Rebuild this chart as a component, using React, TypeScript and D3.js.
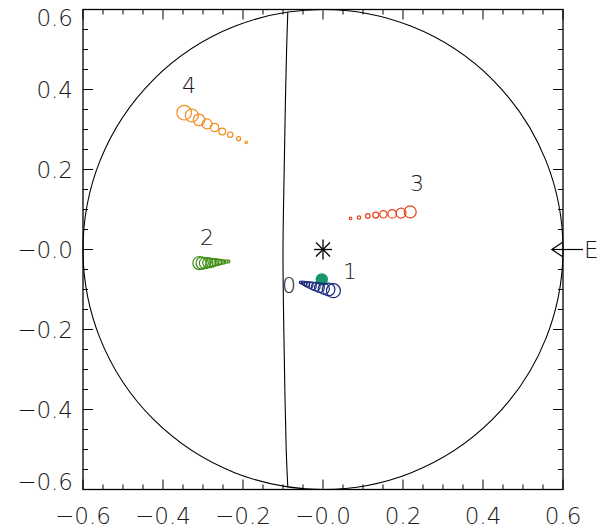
import React from "react";
import * as d3 from "d3";

const W = 613;
const H = 531;

const xTickLabels = ["−0.6", "−0.4", "−0.2", "−0.0", "0.2", "0.4", "0.6"];
const yTickLabels = ["−0.6", "−0.4", "−0.2", "−0.0", "0.2", "0.4", "0.6"];
const majorTicks = [-0.6, -0.4, -0.2, 0, 0.2, 0.4, 0.6];
const minorTicks = [
  -0.55, -0.5, -0.45, -0.35, -0.3, -0.25, -0.15, -0.1, -0.05, 0.05, 0.1, 0.15, 0.25, 0.3, 0.35, 0.45, 0.5, 0.55,
];

const diskRadius = 0.6;

// meridian line
const meridianX = [-0.088, -0.091, -0.094, -0.097, -0.1, -0.098, -0.095, -0.092, -0.088];
const meridianY = [0.594, 0.5, 0.37, 0.2, 0.0, -0.2, -0.37, -0.5, -0.594];

// group 0 (navy)
const g0X = [-0.056, -0.051, -0.046, -0.04, -0.033, -0.026, -0.018, -0.009, 0.002, 0.014, 0.026];
const g0Y = [-0.082, -0.083, -0.085, -0.087, -0.089, -0.091, -0.093, -0.095, -0.098, -0.1, -0.103];
const g0S = [1.3, 1.7, 2.2, 2.7, 3.2, 3.7, 4.3, 4.9, 5.6, 6.3, 7.0];

// group 1 (teal, single filled point)
const g1X = [-0.003];
const g1Y = [-0.075];
const g1S = [6.2];

// group 2 (green)
const g2X = [-0.309, -0.302, -0.295, -0.288, -0.281, -0.275, -0.269, -0.262, -0.256, -0.249, -0.242, -0.236];
const g2Y = [-0.034, -0.034, -0.034, -0.033, -0.033, -0.033, -0.032, -0.032, -0.031, -0.031, -0.03, -0.03];
const g2S = [6.6, 6.1, 5.6, 5.1, 4.6, 4.1, 3.6, 3.1, 2.6, 2.1, 1.7, 1.3];

// group 3 (red)
const g3X = [0.069, 0.09, 0.112, 0.132, 0.151, 0.173, 0.195, 0.218];
const g3Y = [0.078, 0.08, 0.084, 0.086, 0.088, 0.089, 0.091, 0.094];
const g3S = [1.3, 1.7, 2.3, 3.0, 3.7, 4.3, 5.0, 6.0];

// group 4 (orange)
const g4X = [-0.347, -0.328, -0.31, -0.29, -0.271, -0.252, -0.232, -0.211, -0.192];
const g4Y = [0.342, 0.335, 0.324, 0.314, 0.305, 0.295, 0.287, 0.277, 0.268];
const g4S = [7.3, 6.5, 5.8, 5.0, 4.2, 3.4, 2.7, 2.0, 1.3];

const groupNames = ["0", "1", "2", "3", "4"];
const labelX = [-0.085, 0.0675, -0.29, 0.235, -0.335];
const labelY = [-0.089, -0.054, 0.031, 0.164, 0.409];

const groupColors = ["#1c2a7c", "#16976c", "#3f8c12", "#e4431e", "#f08c1c"];

const FONT = "'DejaVu Sans', sans-serif";
const TXT = "#1a1a1a";

export default function App() {
  const x = d3.scaleLinear().domain([-0.6, 0.6]).range([83, 563]);
  const y = d3.scaleLinear().domain([-0.6, 0.6]).range([489.5, 9.5]);
  const r = d3.scaleLinear().domain([0, 10]).range([0, 10]);

  const x0 = x(-0.6);
  const x1 = x(0.6);
  const y0 = y(-0.6);
  const y1 = y(0.6);

  const meridianPts: [number, number][] = meridianX.map((v, i) => [x(v), y(meridianY[i])]);
  const meridianPath = d3.line().curve(d3.curveCatmullRom)(meridianPts) || "";

  const groups = [
    { xs: g0X, ys: g0Y, ss: g0S, color: groupColors[0] },
    { xs: g2X, ys: g2Y, ss: g2S, color: groupColors[2] },
    { xs: g3X, ys: g3Y, ss: g3S, color: groupColors[3] },
    { xs: g4X, ys: g4Y, ss: g4S, color: groupColors[4] },
  ];

  const cx = x(0);
  const cy = y(0);
  const ast = [
    [-9, 0, 9, 0],
    [0, -10, 0, 10],
    [-7, -7, 7, 7],
    [-7, 7, 7, -7],
  ];

  const majLen = 10;
  const minLen = 5;

  // end labels of the y axis sit inside the frame, as in the reference
  const yLabelShift = (t: number) => (t === 0.6 ? 8 : t === -0.6 ? -8 : 0);

  return (
    <svg width={W} height={H} style={{ position: "absolute", left: 0, top: 0, background: "#fff" }}>
      <rect x={0} y={0} width={W} height={H} fill="#fff" />
      {/* solar disk */}
      <circle cx={x(0)} cy={y(0)} r={x(diskRadius) - x(0)} fill="none" stroke="#000" strokeWidth={1.1} />
      <path d={meridianPath} fill="none" stroke="#000" strokeWidth={1.1} />

      {/* teal filled point (group 1) */}
      {g1X.map((v, i) => (
        <circle key={"g1" + i} cx={x(v)} cy={y(g1Y[i])} r={r(g1S[i])} fill={groupColors[1]} stroke="none" />
      ))}

      {groups.map((g, gi) =>
        g.xs.map((v, i) => (
          <circle
            key={gi + "-" + i}
            cx={x(v)}
            cy={y(g.ys[i])}
            r={r(g.ss[i])}
            fill="none"
            stroke={g.color}
            strokeWidth={1.2}
          />
        ))
      )}

      {/* asterisk at disk centre */}
      {ast.map((a, i) => (
        <line key={"a" + i} x1={cx + a[0]} y1={cy + a[1]} x2={cx + a[2]} y2={cy + a[3]} stroke="#000" strokeWidth={1.3} />
      ))}

      {/* group labels */}
      {groupNames.map((n, i) => (
        <text
          key={"lab" + i}
          x={x(labelX[i])}
          y={y(labelY[i])}
          textAnchor="middle"
          dominantBaseline="central"
          fontFamily={FONT}
          fontWeight={200}
          fontSize={22}
          fill={TXT}
        >
          {n}
        </text>
      ))}

      {/* E arrow */}
      <g stroke="#000" strokeWidth={1.2} fill="none">
        <line x1={x(0.572)} y1={y(0)} x2={x(0.65)} y2={y(0)} />
        <polyline points={`${x(0.572) + 10.5},${y(0) - 7} ${x(0.572)},${y(0)} ${x(0.572) + 10.5},${y(0) + 7}`} />
      </g>
      <text x={584} y={y(0)} dominantBaseline="central" fontFamily={FONT} fontWeight={200} fontSize={23} fill={TXT}>
        E
      </text>

      {/* frame */}
      <rect x={x0} y={y1} width={x1 - x0} height={y0 - y1} fill="none" stroke="#000" strokeWidth={1.3} />

      {/* ticks */}
      <g stroke="#000" strokeWidth={1}>
        {majorTicks.map((t, i) => (
          <g key={"mj" + i}>
            <line x1={x(t)} y1={y0} x2={x(t)} y2={y0 - majLen} />
            <line x1={x(t)} y1={y1} x2={x(t)} y2={y1 + majLen} />
            <line x1={x0} y1={y(t)} x2={x0 + majLen} y2={y(t)} />
            <line x1={x1} y1={y(t)} x2={x1 - majLen} y2={y(t)} />
          </g>
        ))}
        {minorTicks.map((t, i) => (
          <g key={"mn" + i}>
            <line x1={x(t)} y1={y0} x2={x(t)} y2={y0 - minLen} />
            <line x1={x(t)} y1={y1} x2={x(t)} y2={y1 + minLen} />
            <line x1={x0} y1={y(t)} x2={x0 + minLen} y2={y(t)} />
            <line x1={x1} y1={y(t)} x2={x1 - minLen} y2={y(t)} />
          </g>
        ))}
      </g>

      {/* tick labels */}
      {majorTicks.map((t, i) => (
        <text
          key={"xl" + i}
          x={x(t)}
          y={516}
          textAnchor="middle"
          dominantBaseline="central"
          fontFamily={FONT}
          fontWeight={200}
          fontSize={23}
          fill={TXT}
        >
          {xTickLabels[i]}
        </text>
      ))}
      {majorTicks.map((t, i) => (
        <text
          key={"yl" + i}
          x={73}
          y={y(t) + yLabelShift(t)}
          textAnchor="end"
          dominantBaseline="central"
          fontFamily={FONT}
          fontWeight={200}
          fontSize={23}
          fill={TXT}
        >
          {yTickLabels[i]}
        </text>
      ))}
    </svg>
  );
}
